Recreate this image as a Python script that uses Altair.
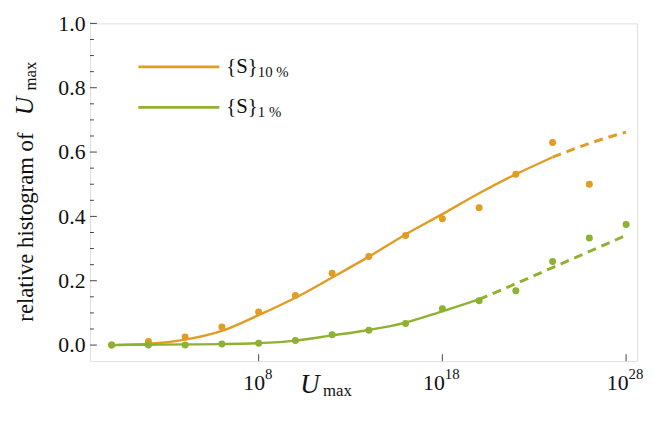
import altair as alt
import pandas as pd

SERIF = "Liberation Serif"
ORANGE = "#E19C24"
GREEN = "#8FB131"

# ---- data ----
pt_exp = [0, 2, 4, 6, 8, 10, 12, 14, 16, 18, 20, 22, 24, 26, 28]
orange_pts = [0.0, 0.011, 0.025, 0.056, 0.103, 0.154, 0.223, 0.275, 0.341, 0.393, 0.427, 0.531, 0.630, 0.500]
green_pts = [0.0, 0.0, 0.0, 0.003, 0.006, 0.014, 0.032, 0.046, 0.067, 0.113, 0.138, 0.169, 0.260, 0.333, 0.375]

orange_fit_exp = [0, 2, 4, 6, 8, 10, 12, 14, 16, 18, 20, 22, 24]
orange_fit = [0.0, 0.004, 0.017, 0.044, 0.093, 0.147, 0.21, 0.275, 0.344, 0.407, 0.472, 0.531, 0.584]
orange_dash_exp = [24, 26, 28]
orange_dash = [0.584, 0.627, 0.662]

green_fit_exp = [0, 2, 4, 6, 8, 10, 12, 14, 16, 18, 20]
green_fit = [0.0, 0.001, 0.002, 0.003, 0.006, 0.014, 0.030, 0.047, 0.070, 0.105, 0.142]
green_dash_exp = [20, 22, 24, 26, 28]
green_dash = [0.142, 0.191, 0.241, 0.291, 0.341]

y_major = [0.0, 0.2, 0.4, 0.6, 0.8, 1.0]
y_minor = [0.05, 0.1, 0.15, 0.25, 0.3, 0.35, 0.45, 0.5, 0.55, 0.65, 0.7, 0.75, 0.85, 0.9, 0.95]
x_tick_exp = [8, 18, 28]

W, H = 554, 342

xs = alt.Scale(type="log", domain=[10 ** -1.18, 10 ** 28.6], nice=False)
ys = alt.Scale(domain=[-0.05, 1.0], nice=False, zero=False)


def df(exps, vals):
    return pd.DataFrame({"x": [10.0 ** e for e in exps[:len(vals)]], "y": vals})


X = alt.X("x:Q", scale=xs, axis=None)
Y = alt.Y("y:Q", scale=ys, axis=alt.Axis(values=y_major, format=".1f", domain=False, ticks=False,
                                         grid=False, labelFont=SERIF, labelFontSize=22,
                                         labelColor="#111", labelPadding=5, title=None,
                                         labelBaseline="middle"))


def line(exps, vals, color, dash=None, width=2.4):
    kw = dict(color=color, strokeWidth=width, interpolate="monotone")
    if dash:
        kw["strokeDash"] = dash
    return alt.Chart(df(exps, vals)).mark_line(**kw).encode(x=X, y=Y)


def pts(exps, vals, color):
    return alt.Chart(df(exps, vals)).mark_circle(color=color, size=50, opacity=1).encode(x=X, y=Y)


def label(txt, x, y, size, style="normal", angle=0, align="left", key=""):
    d = pd.DataFrame({"t": [txt], "k": [key or txt + str(x)]})
    enc = dict(x=alt.value(x), y=alt.value(y), text="t:N")
    if angle:
        enc["angle"] = alt.value(angle)
    return alt.Chart(d).mark_text(font=SERIF, fontSize=size, fontStyle=style,
                                  align=align, baseline="alphabetic",
                                  color="#111").encode(**enc)


one = pd.DataFrame({"a": [0]})

ymaj = alt.Chart(pd.DataFrame({"y": y_major})).mark_rule(color="#444", strokeWidth=1).encode(
    y=Y, x=alt.value(0), x2=alt.value(7))
ymin = alt.Chart(pd.DataFrame({"y": y_minor})).mark_rule(color="#444", strokeWidth=1).encode(
    y=Y, x=alt.value(0), x2=alt.value(4))
xmaj = alt.Chart(pd.DataFrame({"x": [10.0 ** e for e in x_tick_exp]})).mark_rule(
    color="#444", strokeWidth=1).encode(x=X, y=alt.value(H), y2=alt.value(H - 7))

xlabels = []
for e in x_tick_exp:
    d = pd.DataFrame({"x": [10.0 ** e]})
    sup = str(e)
    off = 6.5 if len(sup) == 1 else 2.5
    xlabels.append(alt.Chart(d).mark_text(text="10", font=SERIF, fontSize=22, align="right",
                                          baseline="alphabetic", dx=off, color="#111")
                   .encode(x=X, y=alt.value(371)))
    xlabels.append(alt.Chart(d).mark_text(text=sup, font=SERIF, fontSize=15, align="left",
                                          baseline="alphabetic", dx=off, color="#111")
                   .encode(x=X, y=alt.value(360)))

legend = [
    alt.Chart(one).mark_rule(color=ORANGE, strokeWidth=2.6).encode(
        x=alt.value(49), x2=alt.value(131), y=alt.value(44)),
    alt.Chart(one).mark_rule(color=GREEN, strokeWidth=2.6).encode(
        x=alt.value(49), x2=alt.value(131), y=alt.value(85)),
    label("{S}", 138, 50, 21, key="leg1"),
    label("10 %", 170, 54, 15),
    label("{S}", 138, 91, 21, key="leg2"),
    label("1 %", 170, 95, 15),
]

titles = [
    label("relative histogram of", -58, 302, 23, angle=270),
    label("U", -58, 93, 26, style="italic", angle=270, key="yU"),
    label("max", -55, 68, 17, angle=270, key="ymax"),
    label("U", 213, 374, 27, style="italic", key="xU"),
    label("max", 236, 377, 17, key="xmax"),
]

chart = alt.layer(
    ymaj, ymin, xmaj, *xlabels,
    line(orange_fit_exp, orange_fit, ORANGE),
    line(orange_dash_exp, orange_dash, ORANGE, dash=[9, 6], width=3),
    pts(pt_exp, orange_pts, ORANGE),
    line(green_fit_exp, green_fit, GREEN),
    line(green_dash_exp, green_dash, GREEN, dash=[9, 6], width=3),
    pts(pt_exp, green_pts, GREEN),
    *legend, *titles,
).properties(
    width=W, height=H,
    autosize=alt.AutoSizeParams(type="none"),
    padding={"left": 83, "top": 13, "right": 9, "bottom": 58},
).configure_view(stroke="#444", strokeWidth=1).configure(background="white")

chart.save("out.html", embed_options={"renderer": "svg", "actions": False})
